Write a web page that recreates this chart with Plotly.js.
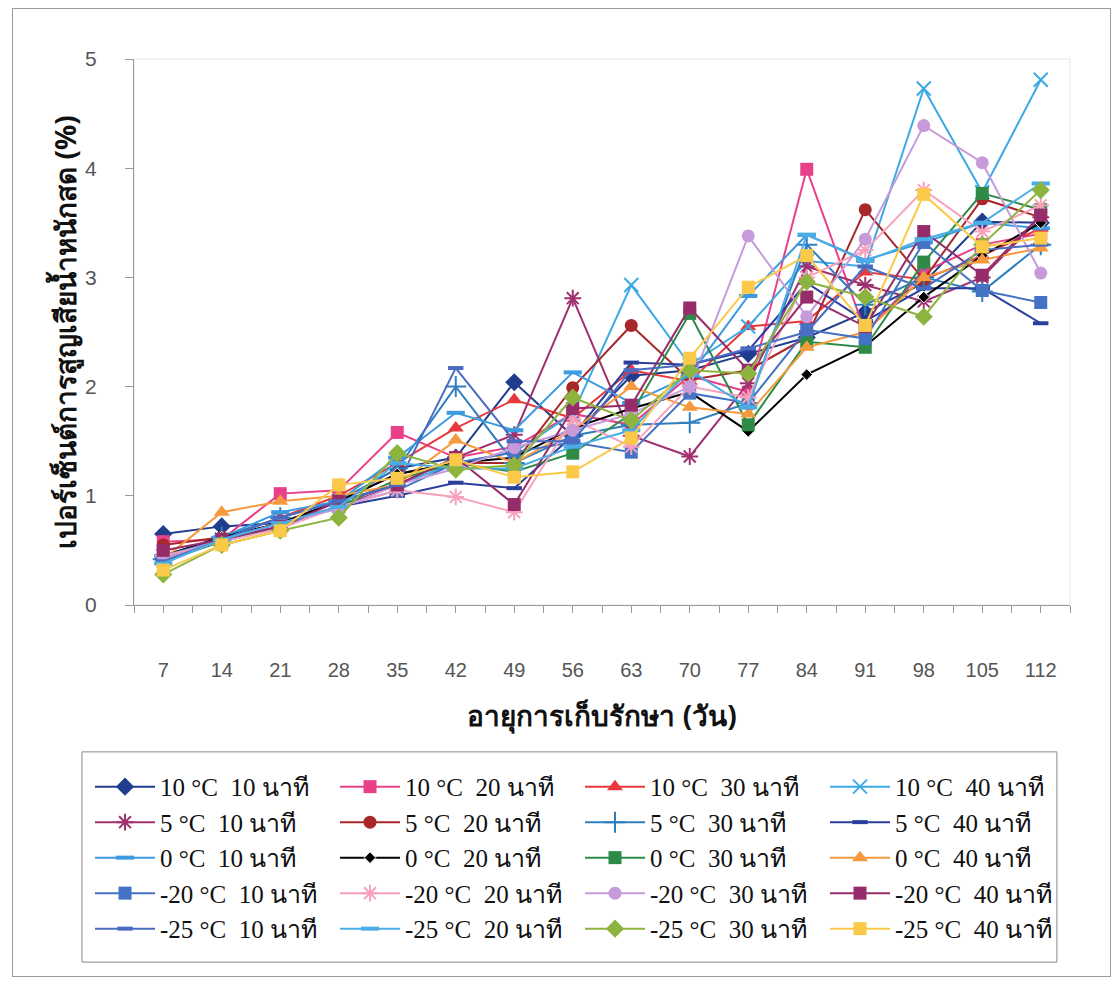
<!DOCTYPE html>
<html>
<head>
<meta charset="utf-8">
<script src="https://cdn.plot.ly/plotly-3.0.1.min.js"></script>
<style>
  html, body { margin: 0; padding: 0; background: #ffffff; }
  #frame { position: absolute; left: 12px; top: 8px; width: 1097px; height: 967px; border: 1px solid #9a9a9a; }
  #chart { position: absolute; left: 0; top: 0; width: 1117px; height: 984px; }
</style>
</head>
<body>
<div id="frame"></div>
<div id="chart"></div>
<script>
// Storage age (days)
const days = [7, 14, 21, 28, 35, 42, 49, 56, 63, 70, 77, 84, 91, 98, 105, 112];

// Fresh weight loss (%) per treatment (temperature, dipping time)
const s10c10 = [0.65, 0.72, 0.75, 0.95, 1.25, 1.35, 2.04, 1.55, 2.10, 2.15, 2.30, 2.45, 2.68, 2.95, 3.51, 3.50];
const s10c20 = [0.58, 0.60, 1.02, 1.05, 1.58, 1.35, 1.45, 1.75, 1.65, 2.10, 1.95, 3.99, 2.50, 3.05, 3.30, 3.40];
const s10c30 = [0.45, 0.62, 0.80, 1.00, 1.30, 1.62, 1.88, 1.71, 2.15, 2.05, 2.55, 2.60, 3.05, 2.98, 3.20, 3.45];
const s10c40 = [0.45, 0.60, 0.75, 0.95, 1.10, 1.30, 1.40, 1.75, 2.93, 2.20, 2.55, 3.15, 3.10, 4.73, 3.78, 4.81];
const s5c10  = [0.45, 0.60, 0.75, 0.90, 1.10, 1.35, 1.56, 2.81, 1.55, 1.36, 2.03, 3.10, 2.93, 2.78, 3.00, 3.55];
const s5c20  = [0.55, 0.62, 0.75, 0.95, 1.20, 1.30, 1.30, 1.99, 2.56, 2.06, 2.15, 2.45, 3.62, 2.98, 3.72, 3.55];
const s5c30  = [0.42, 0.62, 0.80, 0.95, 1.25, 2.00, 1.30, 1.55, 1.65, 1.67, 1.85, 3.30, 2.75, 3.00, 2.87, 3.30];
const s5c40  = [0.42, 0.58, 0.72, 0.90, 1.00, 1.12, 1.07, 1.55, 2.22, 2.20, 2.33, 2.95, 2.60, 2.90, 2.90, 2.58];
const s0c10  = [0.45, 0.62, 0.85, 0.95, 1.35, 1.76, 1.60, 2.13, 1.85, 2.10, 2.83, 3.39, 3.16, 3.32, 3.50, 3.45];
const s0c20  = [0.45, 0.62, 0.75, 0.95, 1.20, 1.30, 1.35, 1.62, 1.80, 1.95, 1.59, 2.11, 2.37, 2.82, 3.20, 3.50];
const s0c30  = [0.40, 0.58, 0.72, 0.90, 1.15, 1.30, 1.22, 1.39, 1.75, 2.67, 1.65, 2.41, 2.36, 3.14, 3.77, 3.62];
const s0c40  = [0.42, 0.85, 0.95, 1.00, 1.10, 1.51, 1.30, 1.60, 2.00, 1.81, 1.75, 2.36, 2.50, 3.00, 3.16, 3.27];
const sm20c10 = [0.45, 0.60, 0.72, 0.90, 1.05, 1.30, 1.40, 1.49, 1.40, 1.94, 1.85, 2.52, 2.44, 3.32, 2.88, 2.77];
const sm20c20 = [0.45, 0.58, 0.70, 0.90, 1.05, 0.99, 0.85, 1.70, 1.45, 2.00, 1.90, 3.00, 3.25, 3.80, 3.42, 3.66];
const sm20c30 = [0.42, 0.60, 0.75, 0.88, 1.10, 1.25, 1.44, 1.60, 1.75, 2.00, 3.38, 2.64, 3.35, 4.39, 4.05, 3.04];
const sm20c40 = [0.50, 0.60, 0.72, 0.95, 1.10, 1.35, 0.92, 1.80, 1.83, 2.72, 2.15, 2.82, 2.55, 3.42, 3.02, 3.57];
const sm25c10 = [0.40, 0.60, 0.80, 0.95, 1.10, 2.17, 1.50, 1.50, 2.15, 2.20, 2.35, 2.50, 3.10, 2.90, 3.25, 3.30];
const sm25c20 = [0.38, 0.60, 0.75, 0.90, 1.30, 1.25, 1.25, 1.45, 1.60, 2.15, 1.81, 3.39, 3.15, 3.35, 3.50, 3.86];
const sm25c30 = [0.28, 0.55, 0.68, 0.80, 1.39, 1.24, 1.28, 1.90, 1.69, 2.15, 2.12, 2.96, 2.82, 2.64, 3.30, 3.80];
const sm25c40 = [0.32, 0.55, 0.68, 1.10, 1.16, 1.33, 1.17, 1.22, 1.53, 2.26, 2.91, 3.20, 2.56, 3.76, 3.28, 3.36];

// Legend names, in legend order (row by row)
const seriesNames = [
  '10 °C  10 นาที', '10 °C  20 นาที', '10 °C  30 นาที', '10 °C  40 นาที',
  '5 °C  10 นาที', '5 °C  20 นาที', '5 °C  30 นาที', '5 °C  40 นาที',
  '0 °C  10 นาที', '0 °C  20 นาที', '0 °C  30 นาที', '0 °C  40 นาที',
  '-20 °C  10 นาที', '-20 °C  20 นาที', '-20 °C  30 นาที', '-20 °C  40 นาที',
  '-25 °C  10 นาที', '-25 °C  20 นาที', '-25 °C  30 นาที', '-25 °C  40 นาที'
];
const seriesValues = [
  s10c10, s10c20, s10c30, s10c40,
  s5c10, s5c20, s5c30, s5c40,
  s0c10, s0c20, s0c30, s0c40,
  sm20c10, sm20c20, sm20c30, sm20c40,
  sm25c10, sm25c20, sm25c30, sm25c40
];

// Line colour and marker style for each series
const styles = [
  {c: '#203C8C', m: 'diamond', s: 14},
  {c: '#E9408A', m: 'square', s: 13},
  {c: '#E8383B', m: 'triangle-up', s: 14},
  {c: '#3CA9E6', m: 'x-thin-open', s: 14},
  {c: '#A0306F', m: 'asterisk-open', s: 14},
  {c: '#A8282A', m: 'circle', s: 13},
  {c: '#2F7FBF', m: 'cross-thin-open', s: 15},
  {c: '#2B3F9C', m: 'line-ew-open', s: 11},
  {c: '#3C9BDF', m: 'line-ew-open', s: 13},
  {c: '#000000', m: 'diamond', s: 9},
  {c: '#2E8B47', m: 'square', s: 13},
  {c: '#F59A3C', m: 'triangle-up', s: 14},
  {c: '#4472C4', m: 'square', s: 13},
  {c: '#F7A1BC', m: 'asterisk-open', s: 14},
  {c: '#C79BD9', m: 'circle', s: 13},
  {c: '#962C6A', m: 'square', s: 13},
  {c: '#4A6CC0', m: 'line-ew-open', s: 11},
  {c: '#4BACE6', m: 'line-ew-open', s: 13},
  {c: '#8DB43E', m: 'diamond', s: 14},
  {c: '#FBC94A', m: 'square', s: 13}
];

const traces = seriesValues.map(function (vals, i) {
  const st = styles[i];
  const open = st.m.indexOf('open') >= 0;
  return {
    type: 'scatter',
    mode: 'lines+markers',
    name: seriesNames[i],
    x: days,
    y: vals,
    line: {color: st.c, width: 2},
    marker: {
      symbol: st.m,
      size: st.s,
      color: st.c,
      line: open ? {color: st.c, width: st.m.indexOf('line-ew') === 0 ? 4 : 2}
                 : (i === 9 ? {color: '#ffffff', width: 1} : {width: 0})
    }
  };
});

// Category ticks at each day and at the boundaries between days
const tickVals = [];
const tickText = [];
days.forEach(function (d) {
  tickVals.push(d - 3.5); tickText.push('');
  tickVals.push(d); tickText.push(String(d));
});
tickVals.push(days[days.length - 1] + 3.5); tickText.push('');

const layout = {
  width: 1117,
  height: 984,
  paper_bgcolor: 'rgba(0,0,0,0)',
  plot_bgcolor: '#ffffff',
  margin: {l: 134, r: 47, t: 59, b: 379},
  showlegend: true,
  xaxis: {
    range: [days[0] - 3.5, days[days.length - 1] + 3.5],
    tickmode: 'array',
    tickvals: tickVals,
    ticktext: tickText,
    ticks: 'outside',
    ticklen: 7,
    tickcolor: '#9a9a9a',
    showline: true,
    linecolor: '#9a9a9a',
    linewidth: 1,
    showgrid: false,
    zeroline: false,
    ticklabelstandoff: 40,
    tickfont: {family: 'Liberation Sans, Arial, sans-serif', size: 20, color: '#555555'},
    title: {
      text: 'อายุการเก็บรักษา (วัน)',
      font: {family: 'Noto Sans, DejaVu Sans, sans-serif', size: 28, color: '#111111', weight: 'bold'},
      standoff: 26
    }
  },
  yaxis: {
    range: [0, 5],
    dtick: 1,
    ticks: 'outside',
    ticklen: 8,
    tickcolor: '#9a9a9a',
    showline: true,
    linecolor: '#9a9a9a',
    linewidth: 1,
    showgrid: false,
    zeroline: false,
    ticklabelstandoff: 24,
    tickfont: {family: 'Liberation Sans, Arial, sans-serif', size: 21, color: '#555555'},
    title: {
      text: 'เปอร์เซ็นต์การสูญเสียน้ำหนักสด (%)',
      font: {family: 'Noto Sans, DejaVu Sans, sans-serif', size: 28, color: '#111111', weight: 'bold'},
      standoff: 0
    }
  },
  shapes: [
    // faint frame round the plotting area
    {type: 'rect', xref: 'paper', yref: 'paper', x0: 0, x1: 1, y0: 0, y1: 1,
     line: {color: '#e6e6e6', width: 1}, layer: 'below'},
    // legend box
    {type: 'rect', xref: 'paper', yref: 'paper', x0: -0.0556, x1: 0.986, y0: -0.654, y1: -0.269,
     line: {color: '#8a8a8a', width: 1}, fillcolor: '#ffffff', layer: 'below'}
  ],
  legend: {
    orientation: 'h',
    x: -0.047,
    xanchor: 'left',
    y: -0.291,
    yanchor: 'top',
    entrywidth: 170,
    entrywidthmode: 'pixels',
    itemwidth: 60,
    traceorder: 'normal',
    bgcolor: 'rgba(0,0,0,0)',
    borderwidth: 0,
    font: {family: 'Liberation Serif, Times New Roman, serif', size: 25, color: '#111111'}
  }
};

Plotly.newPlot('chart', traces, layout, {displayModeBar: false, staticPlot: true});
</script>
</body>
</html>
